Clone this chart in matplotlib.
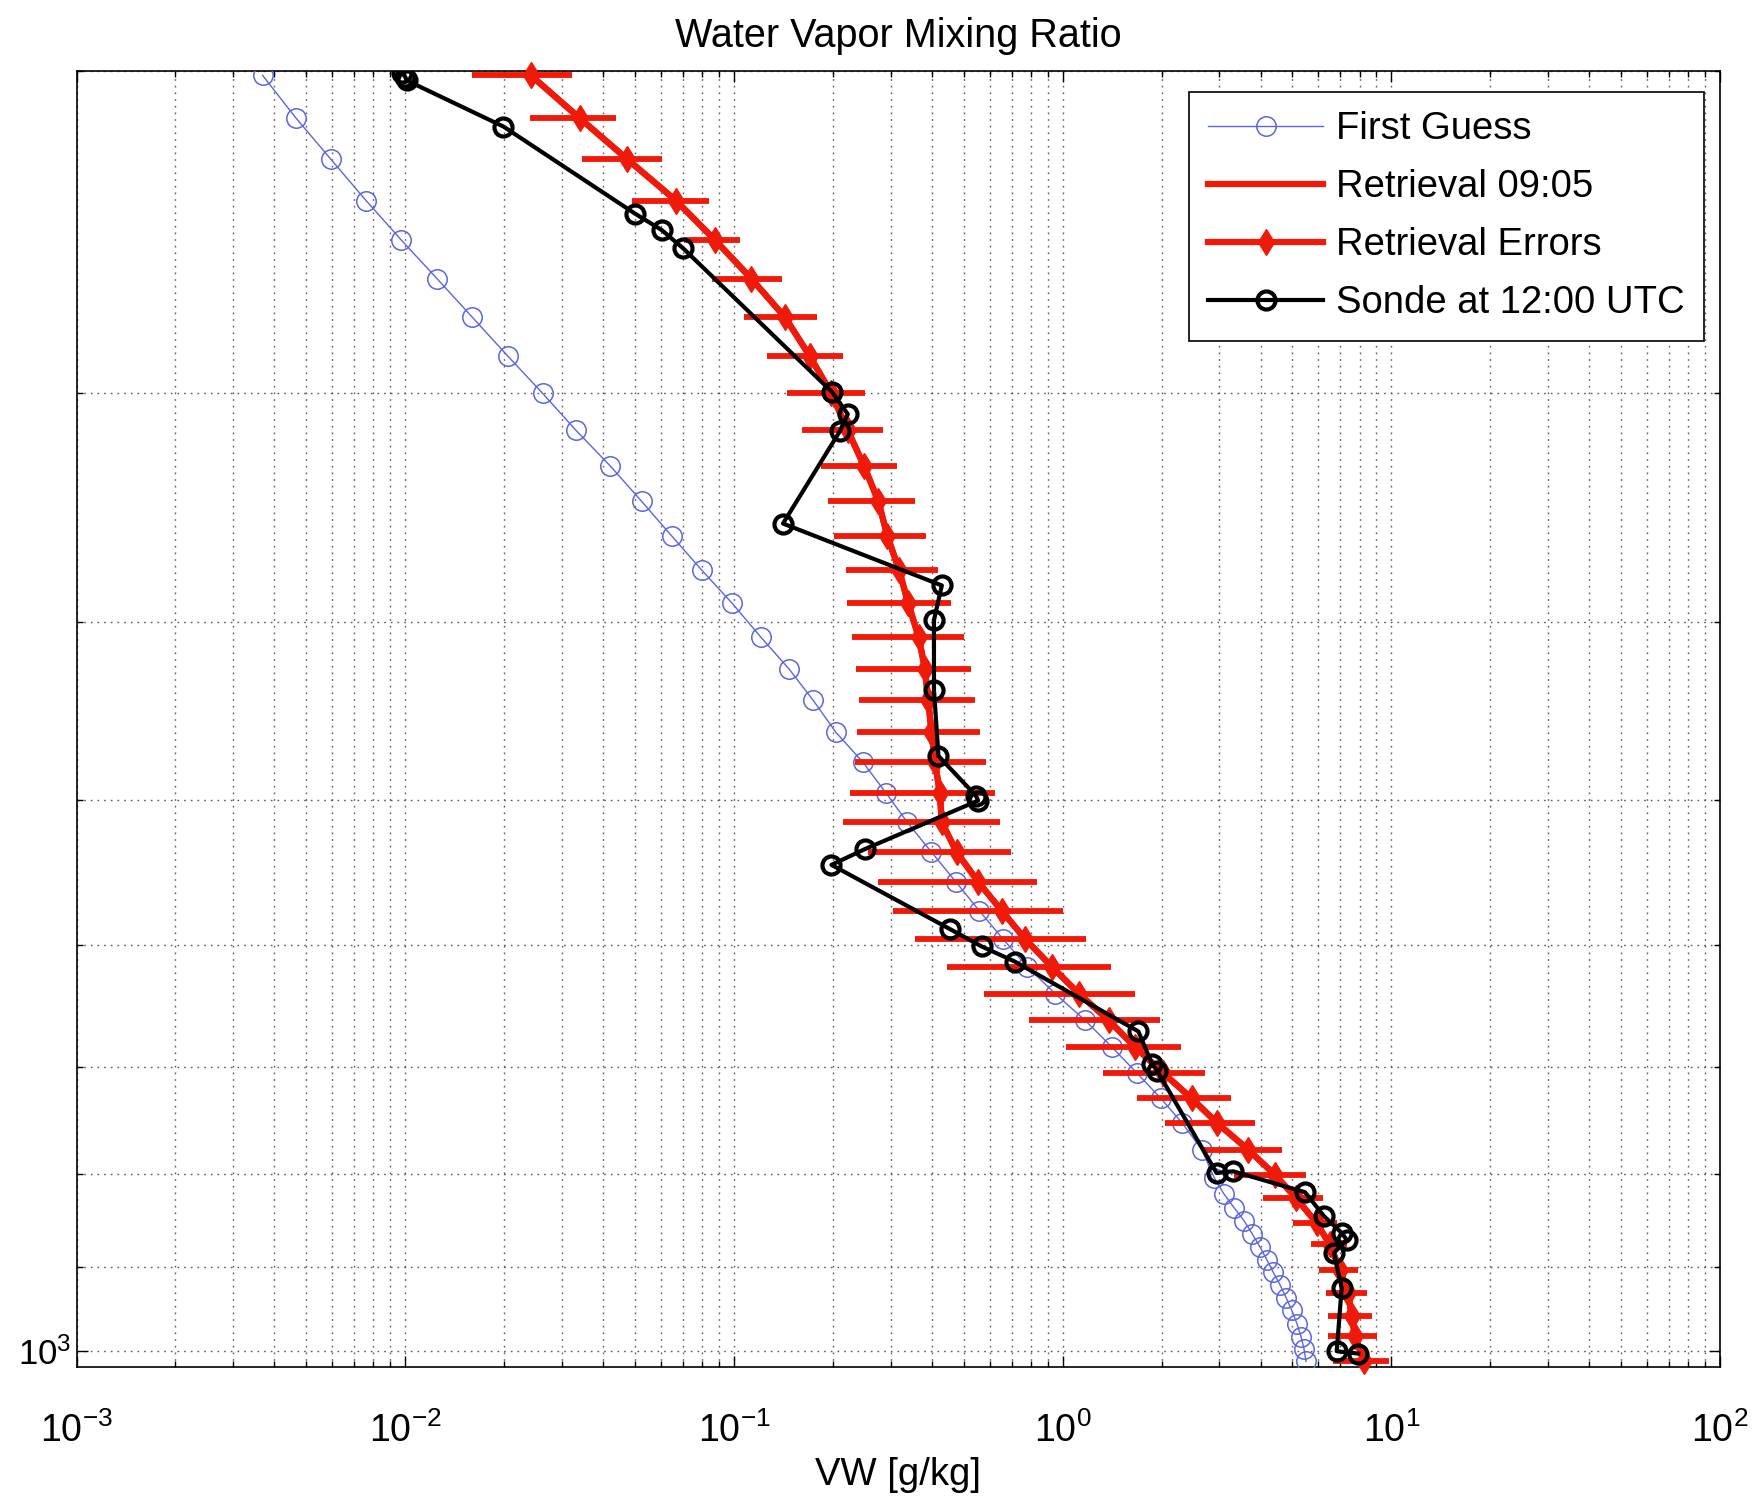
import matplotlib
matplotlib.use('Agg')
import matplotlib.pyplot as plt
from matplotlib.ticker import LogLocator, NullFormatter, FixedLocator, FixedFormatter

plt.rcParams['font.family'] = ['Liberation Sans', 'DejaVu Sans']
plt.rcParams['mathtext.fontset'] = 'custom'
plt.rcParams['mathtext.rm'] = 'Liberation Sans'
plt.rcParams['mathtext.it'] = 'Liberation Sans'

# First guess profile (pressure hPa, mixing ratio g/kg)
fg_p = [201.1, 212.2, 223.5, 235.4, 247.4, 259.7, 272.6, 286.2, 300.0, 314.3,
        328.7, 343.6, 358.9, 374.6, 390.6, 407.7, 424.1, 441.1, 459.2, 477.0,
        495.7, 514.4, 534.0, 554.5, 574.7, 595.5, 616.6, 637.9, 659.7, 682.1,
        704.7, 727.8, 750.6, 776.2, 803.9, 820.3, 834.8, 848.5, 862.5, 876.9,
        891.3, 904.7, 919.6, 934.8, 950.1, 965.8, 981.7, 996.6, 1013.0]
fg_vw = [0.00368, 0.00465, 0.00594, 0.00760, 0.00973, 0.0125, 0.0160, 0.0205, 0.0262, 0.0331,
         0.0421, 0.0524, 0.0647, 0.0798, 0.0988, 0.121, 0.147, 0.174, 0.204, 0.247,
         0.290, 0.337, 0.399, 0.474, 0.557, 0.658, 0.779, 0.948, 1.17, 1.41,
         1.68, 1.99, 2.31, 2.65, 2.89, 3.09, 3.32, 3.56, 3.77, 3.98,
         4.18, 4.36, 4.58, 4.78, 4.98, 5.16, 5.31, 5.42, 5.50]

# Retrieval at 09:05 and its 1-sigma errors
ret_p = [201.1, 212.2, 223.5, 235.4, 247.4, 259.7, 272.6, 286.2, 300.0, 314.3,
         328.7, 343.6, 358.9, 374.6, 390.6, 407.7, 424.1, 441.1, 459.2, 477.0,
         495.7, 514.4, 534.0, 554.5, 574.7, 595.5, 616.6, 637.9, 659.7, 682.1,
         704.7, 727.8, 750.6, 776.2, 801.0, 824.8, 851.1, 874.4, 902.5, 929.2,
         957.0, 981.3, 1013.0]
ret_vw = [0.0241, 0.0339, 0.0474, 0.0666, 0.0876, 0.113, 0.143, 0.170, 0.198, 0.222,
          0.249, 0.275, 0.293, 0.318, 0.339, 0.365, 0.381, 0.390, 0.399, 0.409,
          0.423, 0.429, 0.476, 0.554, 0.652, 0.768, 0.926, 1.12, 1.38, 1.66,
          2.02, 2.47, 2.95, 3.67, 4.42, 5.13, 5.92, 6.50, 6.97, 7.39,
          7.57, 7.75, 8.25]
ret_err = [0.0081, 0.0100, 0.0130, 0.0176, 0.0171, 0.0274, 0.0359, 0.0440, 0.0530, 0.0613,
           0.0649, 0.0815, 0.0908, 0.0992, 0.1185, 0.1359, 0.1451, 0.1495, 0.1628, 0.1752,
           0.198, 0.214, 0.221, 0.279, 0.347, 0.412, 0.480, 0.543, 0.592, 0.634,
           0.698, 0.784, 0.908, 0.980, 1.094, 1.065, 0.896, 0.812, 0.945, 1.067,
           1.173, 1.317, 1.585]

# Radiosonde at 12:00 UTC
sonde_p = [200.6, 201.5, 202.4, 214.5, 239.3, 244.3, 250.0, 299.5, 307.9, 314.6, 353.3,
           381.9, 398.9, 435.5, 473.2, 497.5, 500.5, 532.0, 542.6, 588.2, 601.2,
           612.8, 669.0, 697.0, 703.0, 799.3, 797.6, 818.8, 843.9, 861.8, 869.1,
           883.8, 923.6, 1000.0, 1003.0]
sonde_vw = [0.0098, 0.0100, 0.0101, 0.0199, 0.0500, 0.0603, 0.0701, 0.199, 0.222, 0.210, 0.141,
            0.429, 0.406, 0.406, 0.419, 0.545, 0.553, 0.250, 0.198, 0.454, 0.567,
            0.716, 1.70, 1.87, 1.94, 2.94, 3.30, 5.46, 6.24, 7.06, 7.31,
            6.69, 7.06, 6.82, 7.93]

red = '#f01a0a'
blue = '#5a66e2'

fig = plt.figure(figsize=(17.55, 15.02), dpi=100)
ax = fig.add_axes([0.0436, 0.0899, 0.9365, 0.8629])

h_fg, = ax.plot(fg_vw, fg_p, '-o', color=blue, lw=1.0, ms=14, mfc='none', mec=blue, mew=1.1,
                label='First Guess', zorder=3)
h_ret, = ax.plot(ret_vw, ret_p, '-', color=red, lw=4.5, label='Retrieval 09:05', zorder=4)
h_err = ax.errorbar(ret_vw, ret_p, xerr=ret_err, fmt='-d', color=red, lw=4.5, ms=13,
                    elinewidth=4.2, capsize=0, label='Retrieval Errors', zorder=5, clip_on=False)
h_sonde, = ax.plot(sonde_vw, sonde_p, '-o', color='black', lw=3.0, ms=13, mfc='none',
                   mec='black', mew=3.0, label='Sonde at 12:00 UTC', zorder=6)

ax.set_xscale('log')
ax.set_yscale('log')
ax.set_xlim(1e-3, 1e2)
ax.set_ylim(1020, 200)

ax.xaxis.set_major_locator(LogLocator(base=10, numticks=10))
ax.xaxis.set_minor_locator(LogLocator(base=10, subs=range(2, 10), numticks=20))
ax.xaxis.set_minor_formatter(NullFormatter())
ax.yaxis.set_major_locator(FixedLocator([1000]))
ax.yaxis.set_major_formatter(FixedFormatter(['$10^{3}$']))
ax.yaxis.set_minor_locator(FixedLocator([200, 300, 400, 500, 600, 700, 800, 900]))
ax.yaxis.set_minor_formatter(NullFormatter())

grid_style = dict(color='0.35', linewidth=1.0, linestyle=(0, (1.2, 3.6)))
ax.grid(True, which='both', axis='both', **grid_style)
ax.set_axisbelow(True)

ax.tick_params(which='both', direction='in', top=True, right=True, labelsize=27,
               width=1.0, colors='black')
ax.tick_params(which='major', length=8)
ax.tick_params(which='minor', length=4.5)
ax.tick_params(axis='x', pad=33)
ax.tick_params(axis='y', labelsize=25)
for s in ax.spines.values():
    s.set_linewidth(1.2)

ax.set_title('Water Vapor Mixing Ratio', fontsize=28.5, pad=17)
ax.set_xlabel('VW [g/kg]', fontsize=27.5, labelpad=5)

leg = ax.legend([h_fg, h_ret, h_err, h_sonde],
                ['First Guess', 'Retrieval 09:05', 'Retrieval Errors', 'Sonde at 12:00 UTC'],
                loc='upper right', bbox_to_anchor=(0.9903, 0.9838), borderaxespad=0,
                fontsize=27.5, handlelength=3.0, handletextpad=0.35, labelspacing=0.58,
                borderpad=0.5, fancybox=False, framealpha=1, edgecolor='black')
leg.get_frame().set_linewidth(1.2)

fig.savefig('out.png', dpi=100)
